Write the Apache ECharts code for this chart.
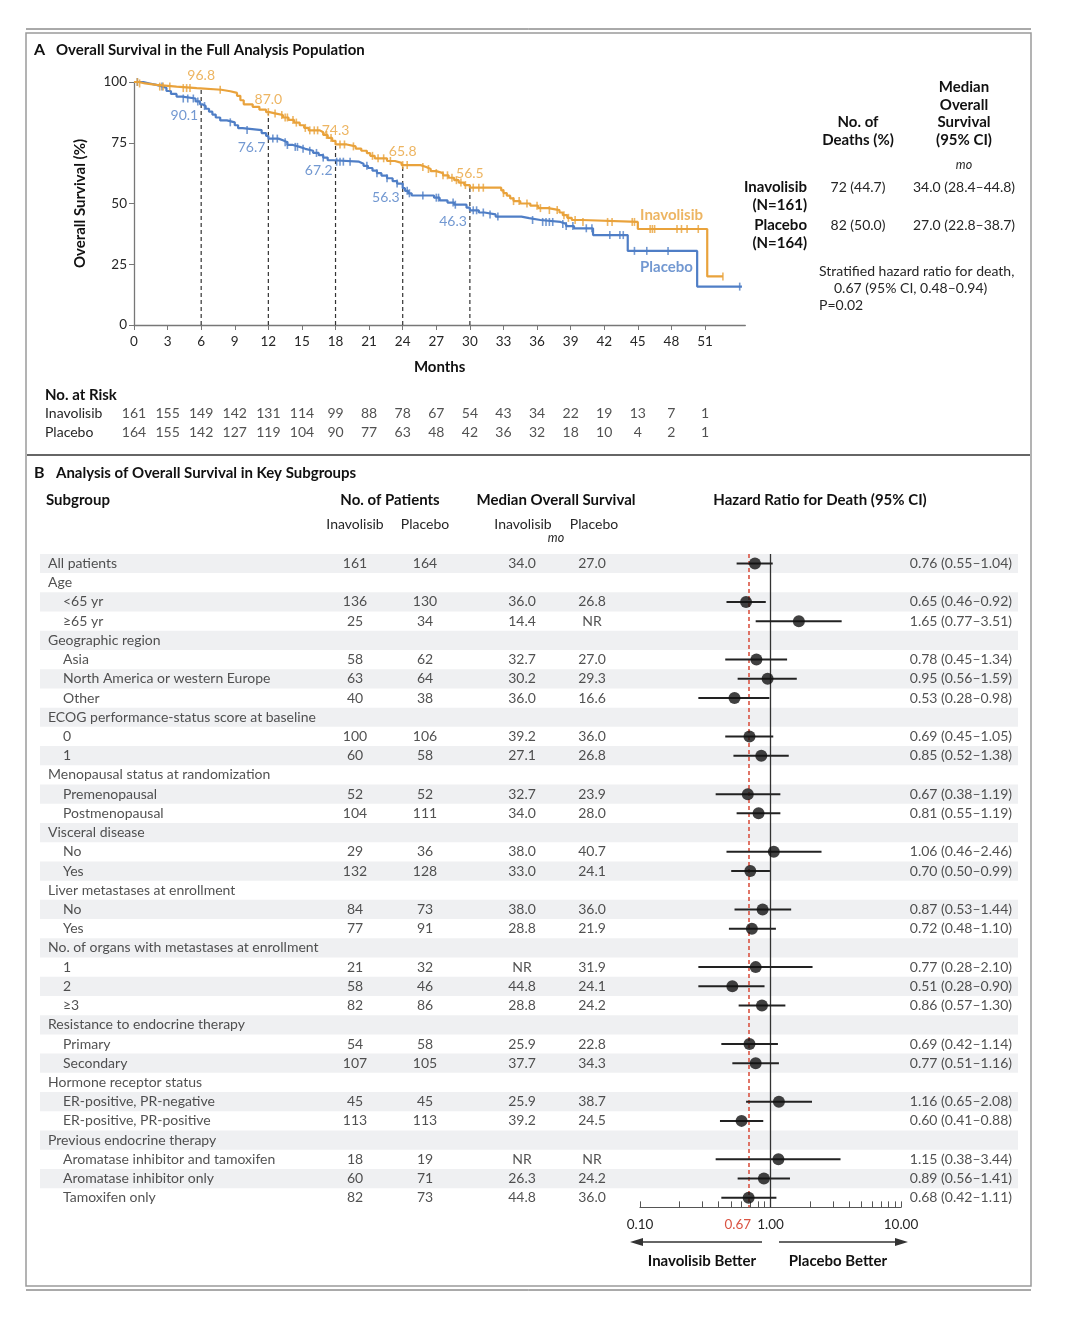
<!DOCTYPE html>
<html><head><meta charset="utf-8">
<script src="https://cdn.jsdelivr.net/npm/echarts@6/dist/echarts.min.js"></script>
<style>html,body{margin:0;padding:0;background:#fff}#c{width:1080px;height:1335px}</style>
</head><body><div id="c"></div>
<script>
// ---------------- DATA ----------------
const kmTicks = [0,3,6,9,12,15,18,21,24,27,30,33,36,39,42,45,48,51];
const inavStep = [[0,100],[0.4,99.4],[1.0,98.8],[2.0,98.1],[3.8,97.5],[5.6,96.8],[7.8,96.2],[8.6,95.5],[9.2,94.3],[9.5,92.5],[9.8,90.8],[10.6,89.8],[11.2,88.6],[11.8,87.6],[12.1,87.0],[12.7,86.4],[13.3,85.4],[13.8,84.4],[14.3,83.3],[14.8,82.2],[15.2,81.1],[15.6,80.1],[16.6,79.3],[16.9,78.2],[17.3,77.0],[17.7,75.8],[18.0,74.3],[19.0,73.5],[19.8,72.6],[20.3,71.7],[20.8,70.7],[21.1,69.6],[21.5,68.6],[22.6,67.5],[23.3,66.7],[23.9,65.8],[25.6,65.0],[26.1,64.2],[26.5,63.3],[27.0,62.5],[27.6,61.6],[28.1,60.6],[28.6,59.6],[29.0,58.6],[29.5,57.6],[30.0,56.5],[32.8,55.4],[33.0,54.3],[33.3,53.2],[33.6,52.1],[33.9,51.0],[34.5,50.0],[35.4,49.1],[36.1,48.1],[37.0,47.3],[38.0,46.3],[38.3,45.2],[38.7,44.1],[39.1,43.2],[40.0,42.4],[45.0,39.5],[51.2,20.0],[52.6,20.0]];
const placStep = [[0,100],[0.8,99.4],[1.4,98.8],[2.0,98.1],[2.6,97.5],[2.9,96.3],[3.3,95.1],[3.8,94.0],[4.3,93.2],[5.5,92.0],[5.9,90.8],[6.1,90.1],[6.4,89.0],[6.7,87.8],[7.0,86.6],[7.3,85.4],[7.7,84.2],[8.3,83.4],[9.0,82.2],[9.3,81.0],[9.7,80.2],[11.4,79.0],[11.8,77.8],[12.0,76.7],[12.9,76.0],[13.3,75.2],[13.7,74.1],[14.2,73.3],[14.8,72.5],[15.3,71.7],[16.0,70.8],[16.5,69.9],[16.9,68.9],[17.3,67.8],[17.8,67.2],[20.1,66.4],[20.5,65.5],[20.9,64.6],[21.3,63.5],[21.7,62.5],[22.1,61.5],[22.6,60.4],[23.1,59.2],[23.5,58.2],[24.0,56.3],[24.2,55.2],[24.5,54.2],[24.8,53.3],[26.8,52.4],[27.3,51.3],[28.0,50.4],[28.6,49.5],[29.7,48.3],[30.0,47.2],[30.8,46.3],[31.3,45.5],[32.3,44.6],[34.6,44.0],[35.3,43.2],[36.3,42.4],[38.1,41.6],[38.6,40.7],[39.3,39.8],[41.0,37.0],[44.1,30.5],[50.3,15.8],[54.3,15.8]];
const inavCensor = [0.3,0.5,2.3,2.6,3.2,4.4,4.7,5.0,7.7,12.0,12.6,13.2,13.5,13.7,14.2,14.5,15.3,15.7,16.1,16.4,17.2,17.6,18.4,18.8,19.6,21.3,21.8,22.3,22.9,24.0,24.4,25.8,26.3,27.0,27.6,28.0,28.4,28.8,29.2,29.6,30.3,30.8,31.2,33.0,33.9,34.4,35.1,36.0,36.3,37.1,37.8,38.4,38.8,39.4,40.1,42.3,42.7,44.5,44.7,46.1,46.3,46.5,48.5,48.9,49.4,50.4,52.6];
const placCensor = [0.3,2.5,4.4,4.8,5.3,5.7,6.3,8.6,10.1,12.4,12.8,13.5,13.7,14.4,14.6,15.1,15.7,16.3,16.9,18.1,18.4,18.7,19.3,20.8,21.7,22.6,23.5,24.4,24.6,25.8,27.0,27.2,28.5,28.7,30.3,30.6,31.2,31.8,32.5,35.6,36.5,36.8,37.1,37.4,38.3,38.6,39.2,40.4,40.9,42.5,43.4,43.7,44.7,45.8,47.7,54.1];
const landmarkMonths = [6,12,18,24,30];
const inavLandmark = [96.8,87.0,74.3,65.8,56.5];
const placLandmark = [90.1,76.7,67.2,56.3,46.3];
const riskMonths = [0,3,6,9,12,15,18,21,24,27,30,33,36,39,42,45,48,51];
const riskInav = [161,155,149,142,131,114,99,88,78,67,54,43,34,22,19,13,7,1];
const riskPlac = [164,155,142,127,119,104,90,77,63,48,42,36,32,18,10,4,2,1];
const armNames = ['Inavolisib','Placebo'];
const armN = ['(N=161)','(N=164)'];
const armDeaths = ['72 (44.7)','82 (50.0)'];
const armMedian = ['34.0 (28.4–44.8)','27.0 (22.8–38.7)'];

const subgroups = ['All patients','Age','<65 yr','≥65 yr','Geographic region','Asia','North America or western Europe','Other','ECOG performance-status score at baseline','0','1','Menopausal status at randomization','Premenopausal','Postmenopausal','Visceral disease','No','Yes','Liver metastases at enrollment','No','Yes','No. of organs with metastases at enrollment','1','2','≥3','Resistance to endocrine therapy','Primary','Secondary','Hormone receptor status','ER-positive, PR-negative','ER-positive, PR-positive','Previous endocrine therapy','Aromatase inhibitor and tamoxifen','Aromatase inhibitor only','Tamoxifen only'];
const indent = [0,0,1,1,0,1,1,1,0,1,1,0,1,1,0,1,1,0,1,1,0,1,1,1,0,1,1,0,1,1,0,1,1,1];
const nInav = [161,null,136,25,null,58,63,40,null,100,60,null,52,104,null,29,132,null,84,77,null,21,58,82,null,54,107,null,45,113,null,18,60,82];
const nPlac = [164,null,130,34,null,62,64,38,null,106,58,null,52,111,null,36,128,null,73,91,null,32,46,86,null,58,105,null,45,113,null,19,71,73];
const medInav = ['34.0',null,'36.0','14.4',null,'32.7','30.2','36.0',null,'39.2','27.1',null,'32.7','34.0',null,'38.0','33.0',null,'38.0','28.8',null,'NR','44.8','28.8',null,'25.9','37.7',null,'25.9','39.2',null,'NR','26.3','44.8'];
const medPlac = ['27.0',null,'26.8','NR',null,'27.0','29.3','16.6',null,'36.0','26.8',null,'23.9','28.0',null,'40.7','24.1',null,'36.0','21.9',null,'31.9','24.1','24.2',null,'22.8','34.3',null,'38.7','24.5',null,'NR','24.2','36.0'];
const hr = [0.76,null,0.65,1.65,null,0.78,0.95,0.53,null,0.69,0.85,null,0.67,0.81,null,1.06,0.70,null,0.87,0.72,null,0.77,0.51,0.86,null,0.69,0.77,null,1.16,0.60,null,1.15,0.89,0.68];
const hrLo = [0.55,null,0.46,0.77,null,0.45,0.56,0.28,null,0.45,0.52,null,0.38,0.55,null,0.46,0.50,null,0.53,0.48,null,0.28,0.28,0.57,null,0.42,0.51,null,0.65,0.41,null,0.38,0.56,0.42];
const hrHi = [1.04,null,0.92,3.51,null,1.34,1.59,0.98,null,1.05,1.38,null,1.19,1.19,null,2.46,0.99,null,1.44,1.10,null,2.10,0.90,1.30,null,1.14,1.16,null,2.08,0.88,null,3.44,1.41,1.11];
const overallHR = 0.67;
const forestTickValues = [0.1,0.2,0.3,0.4,0.5,0.6,0.7,0.8,0.9,1,2,3,4,5,6,7,8,9,10];
const forestLabelValues = [0.1,0.67,1,10];

// ---------------- STYLE ----------------
const FONT = 'Lato';
const ORANGE = '#E9A23B';
const BLUE = '#4F7EC6';
const TXT = '#262626';
const RED = '#DA5443';

function survAt(step, t){ let s = step[0][1]; for (const p of step){ if (p[0] <= t) s = p[1]; else break; } return s; }
const L10 = Math.log10;
const rowsIdx = subgroups.map((_, i) => i);
const NROW = subgroups.length;

function T(text, x, y, font, align, color, va){
  return {type:'text', x:x, y:y, silent:true, style:{text:text, font:font, fill:color||TXT, textAlign:align||'left', textVerticalAlign:va||'middle'}};
}
const B15 = 'bold 15px ' + FONT, R14 = '14px ' + FONT;

const graphics = [];
graphics.push({type:'line', shape:{x1:26,y1:29,x2:1031,y2:29}, style:{stroke:'#555', lineWidth:1}});
graphics.push({type:'rect', shape:{x:26,y:33,width:1005,height:1253}, style:{fill:'none', stroke:'#9a9a9a', lineWidth:1.5}});
graphics.push({type:'line', shape:{x1:26,y1:1290,x2:1031,y2:1290}, style:{stroke:'#555', lineWidth:1}});
graphics.push({type:'line', shape:{x1:27,y1:455,x2:1030,y2:455}, style:{stroke:'#666', lineWidth:2}});
graphics.push(T('A', 34, 50, 'bold 16px ' + FONT, 'left', '#111'));
graphics.push(T('Overall Survival in the Full Analysis Population', 56, 50, B15, 'left', '#111'));
graphics.push(T('B', 34, 473, 'bold 16px ' + FONT, 'left', '#111'));
graphics.push(T('Analysis of Overall Survival in Key Subgroups', 56, 473, B15, 'left', '#111'));
['Median','Overall','Survival','(95% CI)'].forEach((t,i)=>graphics.push(T(t, 964, 87 + i*17.7, B15, 'center', '#111')));
['No. of','Deaths (%)'].forEach((t,i)=>graphics.push(T(t, 858, 122 + i*18, B15, 'center', '#111')));
graphics.push(T('mo', 964, 165, 'italic 12.5px ' + FONT, 'center'));
armNames.forEach((a,i)=>{
  const y = 187 + i*38;
  graphics.push(T(a, 807, y, B15, 'right', '#111'));
  graphics.push(T(armN[i], 807, y + 18, B15, 'right', '#111'));
  graphics.push(T(armDeaths[i], 858, y, R14, 'center'));
  graphics.push(T(armMedian[i], 964, y, R14, 'center'));
});
graphics.push(T('Stratified hazard ratio for death,', 819, 271, R14, 'left'));
graphics.push(T('0.67 (95% CI, 0.48–0.94)', 834, 288, R14, 'left'));
graphics.push(T('P=0.02', 819, 305, R14, 'left'));
graphics.push(T('No. at Risk', 45, 395, B15, 'left', '#111'));
armNames.forEach((a,i)=>graphics.push(T(a, 45, 413 + i*19, R14, 'left')));
graphics.push(T('Subgroup', 46, 500, B15, 'left', '#111'));
graphics.push(T('No. of Patients', 390, 500, B15, 'center', '#111'));
graphics.push(T('Median Overall Survival', 556, 500, B15, 'center', '#111'));
graphics.push(T('Hazard Ratio for Death (95% CI)', 820, 500, B15, 'center', '#111'));
graphics.push(T('Inavolisib', 355, 524, R14, 'center'));
graphics.push(T('Placebo', 425, 524, R14, 'center'));
graphics.push(T('Inavolisib', 523, 524, R14, 'center'));
graphics.push(T('Placebo', 594, 524, R14, 'center'));
graphics.push(T('mo', 556, 538, 'italic 12.5px ' + FONT, 'center'));
graphics.push({type:'line', shape:{x1:762,y1:1242,x2:638,y2:1242}, style:{stroke:'#333', lineWidth:1.5}});
graphics.push({type:'polygon', shape:{points:[[630,1242],[643,1238],[643,1246]]}, style:{fill:'#333'}});
graphics.push({type:'line', shape:{x1:779,y1:1242,x2:900,y2:1242}, style:{stroke:'#333', lineWidth:1.5}});
graphics.push({type:'polygon', shape:{points:[[908,1242],[895,1238],[895,1246]]}, style:{fill:'#333'}});
graphics.push(T('Inavolisib Better', 702, 1261, B15, 'center', '#111'));
graphics.push(T('Placebo Better', 838, 1261, B15, 'center', '#111'));

// ---------------- LAYOUT ----------------
const KM_MAX = 54.6;
const kmGrid = {left:134, top:82, width:611.3, height:243};
const riskGrid = {left:134, top:404, width:611.3, height:38};
const rowH = 19.22;
const fTop = 563.5 - rowH/2, fH = rowH*NROW;
const tableGrid = {left:40, top:fTop, width:978, height:fH};
const forestGrid = {left:640, top:fTop, width:261, height:fH};
const axisFont = {fontFamily:FONT, fontSize:13.5, color:TXT};
const rowAxis = (g)=>({gridIndex:g, type:'value', inverse:true, min:-0.5, max:NROW-0.5, show:false});

function textCol(name, xPos, values, pos){
  const data = [];
  values.forEach((v,i)=>{ if (v !== null && v !== undefined) data.push([typeof xPos === 'function' ? xPos(i) : xPos, i, String(v)]); });
  return {
    type:'scatter', name:name, xAxisIndex:2, yAxisIndex:2, data:data, symbolSize:0, silent:true, z:5, clip:false,
    label:{show:true, position:pos, distance:0, formatter:p=>p.data[2], fontFamily:FONT, fontSize:14, color:TXT}
  };
}

const option = {
  animation:false,
  backgroundColor:'#fff',
  textStyle:{fontFamily:FONT},
  grid:[kmGrid, riskGrid, tableGrid, forestGrid],
  xAxis:[
    {gridIndex:0, type:'value', min:0, max:KM_MAX, interval:3,
     axisLine:{show:true, lineStyle:{color:'#777', width:1.3}},
     axisTick:{show:true, customValues:kmTicks, length:5, lineStyle:{color:'#777'}},
     axisLabel:{customValues:kmTicks, margin:10, ...axisFont},
     splitLine:{show:false},
     name:'Months', nameLocation:'middle', nameGap:35, nameTextStyle:{fontFamily:FONT, fontWeight:'bold', fontSize:15, color:'#111'}},
    {gridIndex:1, type:'value', min:0, max:KM_MAX, show:false},
    {gridIndex:2, type:'value', min:0, max:978, show:false},
    {gridIndex:3, type:'value', min:-1, max:1,
     axisLine:{show:true, onZero:false, lineStyle:{color:'#555', width:1.2}},
     axisTick:{show:true, inside:true, length:6, customValues:forestTickValues.map(L10), lineStyle:{color:'#555'}},
     axisLabel:{customValues:forestLabelValues.map(L10), hideOverlap:false, margin:10, ...axisFont,
       formatter:v=>{ const r = Math.pow(10, v); if (Math.abs(r - overallHR) < 0.005) return '{r|' + overallHR.toFixed(2) + '}'; return r.toFixed(2); },
       rich:{r:{color:RED, fontFamily:FONT, fontSize:13.5, padding:[0,20,0,0]}}},
     splitLine:{show:false}}
  ],
  yAxis:[
    {gridIndex:0, type:'value', min:0, max:100, interval:25,
     axisLine:{show:true, lineStyle:{color:'#777', width:1.3}},
     axisTick:{show:true, length:5, lineStyle:{color:'#777'}},
     axisLabel:{margin:7, ...axisFont}, splitLine:{show:false},
     name:'Overall Survival (%)', nameLocation:'middle', nameGap:46, nameRotate:90,
     nameTextStyle:{fontFamily:FONT, fontWeight:'bold', fontSize:15, color:'#111'}},
    {gridIndex:1, type:'value', inverse:true, min:-0.5, max:1.5, show:false},
    rowAxis(2),
    rowAxis(3)
  ],
  graphic:graphics,
  series:[
    {type:'custom', name:'landmarks', xAxisIndex:0, yAxisIndex:0, silent:true, z:1,
     data:landmarkMonths.map((m,i)=>[m, inavLandmark[i]]),
     renderItem:(params, api)=>{
       const a = api.coord([api.value(0), 0]), b = api.coord([api.value(0), api.value(1)]);
       return {type:'line', shape:{x1:a[0], y1:a[1], x2:b[0], y2:b[1]}, style:{stroke:'#333', lineWidth:1.2, lineDash:[4,3]}};
     }},
    {type:'line', name:'Placebo', xAxisIndex:0, yAxisIndex:0, step:'end', data:placStep, showSymbol:false, silent:true, z:3,
     lineStyle:{color:BLUE, width:2.2}, itemStyle:{color:BLUE}},
    {type:'line', name:'Inavolisib', xAxisIndex:0, yAxisIndex:0, step:'end', data:inavStep, showSymbol:false, silent:true, z:4,
     lineStyle:{color:ORANGE, width:2.2}, itemStyle:{color:ORANGE}},
    {type:'scatter', name:'Placebo censored', xAxisIndex:0, yAxisIndex:0, silent:true, z:3,
     data:placCensor.map(t=>[t, survAt(placStep, t)]), symbol:'rect', symbolSize:[1.6,8], itemStyle:{color:BLUE}},
    {type:'scatter', name:'Inavolisib censored', xAxisIndex:0, yAxisIndex:0, silent:true, z:4,
     data:inavCensor.map(t=>[t, survAt(inavStep, t)]), symbol:'rect', symbolSize:[1.6,8], itemStyle:{color:ORANGE}},
    {type:'scatter', name:'Inav landmark labels', xAxisIndex:0, yAxisIndex:0, silent:true, z:6, symbolSize:0,
     data:landmarkMonths.map((m,i)=>[m, inavLandmark[i]]),
     label:{show:true, position:'top', distance:7, formatter:p=>p.data[1].toFixed(1), fontFamily:FONT, fontSize:14, color:ORANGE}},
    {type:'scatter', name:'Plac landmark labels', xAxisIndex:0, yAxisIndex:0, silent:true, z:6, symbolSize:0,
     data:landmarkMonths.map((m,i)=>[m, placLandmark[i]]),
     label:{show:true, position:'left', distance:3, offset:[0,9], formatter:p=>p.data[1].toFixed(1), fontFamily:FONT, fontSize:14, color:BLUE}},
    {type:'scatter', name:'curve names', xAxisIndex:0, yAxisIndex:0, silent:true, z:6, symbolSize:0,
     data:[{value:[45.2,45.3], name:'Inavolisib', label:{color:ORANGE}}, {value:[45.2,23.9], name:'Placebo', label:{color:BLUE}}],
     label:{show:true, position:'right', distance:0, formatter:p=>p.name, fontFamily:FONT, fontSize:15, fontWeight:'bold'}},
    {type:'scatter', name:'risk inav', xAxisIndex:1, yAxisIndex:1, silent:true, symbolSize:0,
     data:riskMonths.map((m,i)=>[m, 0, riskInav[i]]),
     label:{show:true, position:'inside', formatter:p=>p.data[2], fontFamily:FONT, fontSize:14, color:TXT}},
    {type:'scatter', name:'risk plac', xAxisIndex:1, yAxisIndex:1, silent:true, symbolSize:0,
     data:riskMonths.map((m,i)=>[m, 1, riskPlac[i]]),
     label:{show:true, position:'inside', formatter:p=>p.data[2], fontFamily:FONT, fontSize:14, color:TXT}},
    {type:'custom', name:'bands', xAxisIndex:2, yAxisIndex:2, silent:true, z:0,
     data:rowsIdx.filter(i=>i%2===0).map(i=>[0,i]),
     renderItem:(params, api)=>{
       const y = api.value(1);
       const p0 = api.coord([0, y - 0.5]), p1 = api.coord([978, y + 0.5]);
       return {type:'rect', shape:{x:p0[0], y:Math.min(p0[1],p1[1]), width:p1[0]-p0[0], height:Math.abs(p1[1]-p0[1])}, style:{fill:'#eff0f2'}};
     }},
    textCol('names', i=>indent[i]?23:8, subgroups, 'right'),
    textCol('nInav', 315, nInav, 'inside'),
    textCol('nPlac', 385, nPlac, 'inside'),
    textCol('medInav', 482, medInav, 'inside'),
    textCol('medPlac', 552, medPlac, 'inside'),
    textCol('hrText', 972, hr.map((v,i)=> v===null ? null : v.toFixed(2) + ' (' + hrLo[i].toFixed(2) + '–' + hrHi[i].toFixed(2) + ')'), 'left'),
    {type:'custom', name:'CI', xAxisIndex:3, yAxisIndex:3, silent:true, z:4,
     data:rowsIdx.filter(i=>hr[i]!==null).map(i=>[L10(hrLo[i]), L10(hrHi[i]), i]),
     encode:{x:[0,1], y:2},
     renderItem:(params, api)=>{
       const a = api.coord([api.value(0), api.value(2)]), b = api.coord([api.value(1), api.value(2)]);
       return {type:'line', shape:{x1:a[0], y1:a[1], x2:b[0], y2:b[1]}, style:{stroke:'#222', lineWidth:2}};
     }},
    {type:'scatter', name:'HR', xAxisIndex:3, yAxisIndex:3, silent:true, z:5,
     data:rowsIdx.filter(i=>hr[i]!==null).map(i=>[L10(hr[i]), i]),
     symbol:'circle', symbolSize:12, itemStyle:{color:'#111'},
     markLine:{silent:true, symbol:'none', label:{show:false}, z:3,
       data:[
         {xAxis:0, lineStyle:{color:'#333', width:1.3, type:'solid'}},
         {xAxis:L10(overallHR), lineStyle:{color:RED, width:1.6, type:[4,3]}}
       ]}}
  ]
};

const chart = echarts.init(document.getElementById('c'), null, {renderer:'canvas'});
chart.setOption(option);
</script>
</body></html>
